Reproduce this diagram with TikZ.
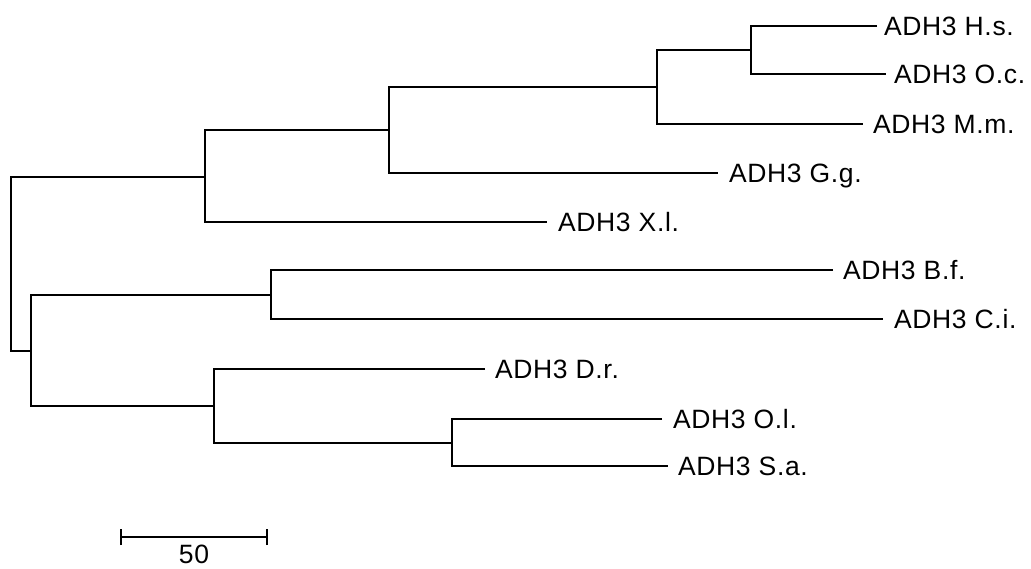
\documentclass[tikz,border=0pt]{standalone}
\usepackage{fontspec}
\newfontfamily\labfont[LetterSpace=2.5]{Liberation Sans}
\begin{document}
\begin{tikzpicture}[x=1pt,y=-1pt,
  br/.style={line width=1.6pt,black},
  lab/.style={anchor=base west,inner sep=0pt,outer sep=0pt,font=\labfont\fontsize{26.5}{30}\selectfont}]
\useasboundingbox (0,0) rectangle (1031,568);
% leaf line ends
\coordinate (eHs) at (877,26);
\coordinate (eOc) at (886,74);
\coordinate (eMm) at (863,124);
\coordinate (eGg) at (718,173);
\coordinate (eXl) at (547,222);
\coordinate (eBf) at (833,270);
\coordinate (eCi) at (883,319);
\coordinate (eDr) at (485,369);
\coordinate (eOl) at (662,419);
\coordinate (eSa) at (668,466);
% labels
\node[lab] (Hs) at (884,35) {ADH3 H.s.};
\node[lab] (Oc) at (894,83) {ADH3 O.c.};
\node[lab] (Mm) at (873,133) {ADH3 M.m.};
\node[lab] (Gg) at (729,182) {ADH3 G.g.};
\node[lab] (Xl) at (558,231) {ADH3 X.l.};
\node[lab] (Bf) at (843,279) {ADH3 B.f.};
\node[lab] (Ci) at (894,328) {ADH3 C.i.};
\node[lab] (Dr) at (495,378) {ADH3 D.r.};
\node[lab] (Ol) at (673,428) {ADH3 O.l.};
\node[lab] (Sa) at (678,475) {ADH3 S.a.};
% internal nodes
\coordinate (n1) at (751,50);
\coordinate (n2) at (657,87);
\coordinate (n3) at (389,130);
\coordinate (n4) at (205,177);
\coordinate (n5) at (271,295);
\coordinate (n6) at (452,443);
\coordinate (n7) at (214,406);
\coordinate (n8) at (31,351);
\coordinate (root) at (11,264);
% branches
\draw[br] (eHs) -| (n1) |- (eOc);
\draw[br] (n1) -| (n2) |- (eMm);
\draw[br] (n2) -| (n3) |- (eGg);
\draw[br] (n3) -| (n4) |- (eXl);
\draw[br] (eBf) -| (n5) |- (eCi);
\draw[br] (eOl) -| (n6) |- (eSa);
\draw[br] (eDr) -| (n7) |- (n6);
\draw[br] (n5) -| (n8) |- (n7);
\draw[br] (n4) -| (root) |- (n8);
% scale bar
\coordinate (sbL) at (121,537);
\coordinate (sbR) at (267,537);
\draw[br] (sbL) -- (sbR);
\draw[br] ([yshift=-8pt]sbL) -- ([yshift=8pt]sbL);
\draw[br] ([yshift=-8pt]sbR) -- ([yshift=8pt]sbR);
\node[anchor=base,inner sep=0pt,font=\labfont\fontsize{26.5}{30}\selectfont] (sb) at (194,563) {50};
\end{tikzpicture}
\end{document}
